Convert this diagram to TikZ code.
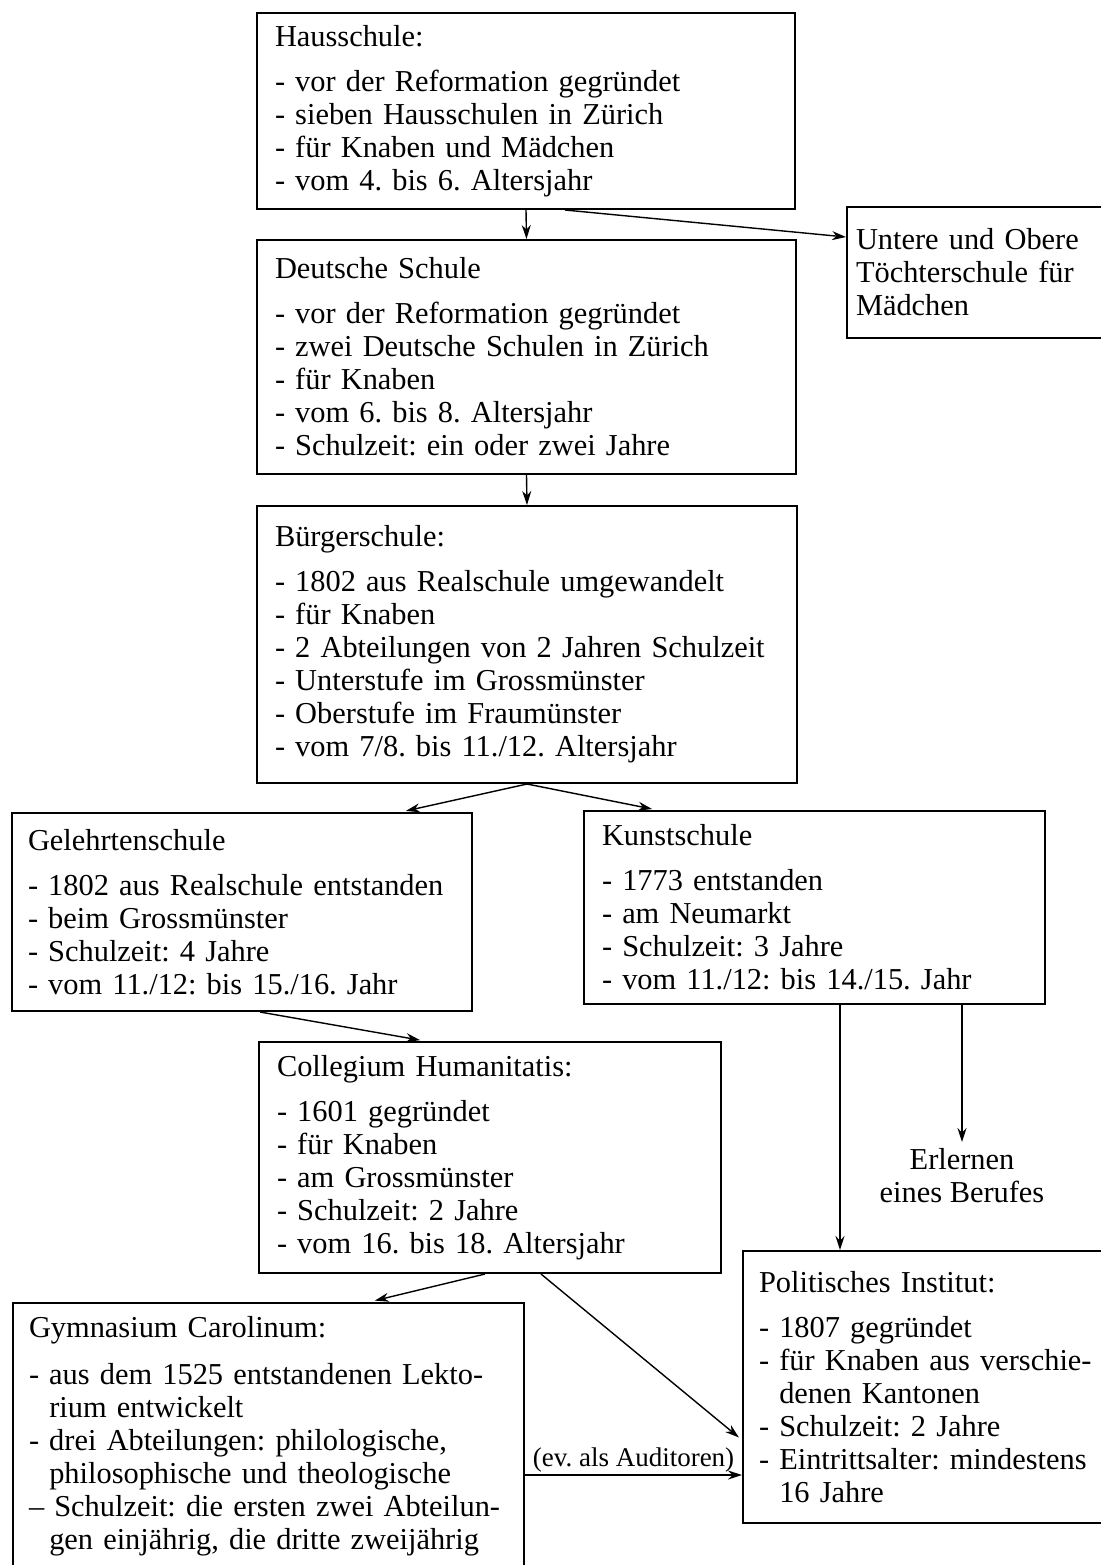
\documentclass[tikz,border=0pt]{standalone}
\usepackage{fontspec}
\setmainfont{Liberation Serif}
\usetikzlibrary{arrows.meta,calc}
\frenchspacing

\begin{document}
\begin{tikzpicture}[x=0.5pt, y=-0.5pt, thick,
    box/.style = {draw, line width=1pt, anchor=north west, align=left, inner xsep=9pt, inner ysep=0pt, font=\fontsize{15.2}{16.5}\selectfont},
    arr/.style = {-{Stealth[length=7pt,width=4.5pt]}, line width=0.7pt}]
    \fill[white] (0,0) rectangle (1101,1565);
    \useasboundingbox (0,0) rectangle (1101,1565);

    \node[box, text width=251pt, minimum height=98pt] at (256,12) (haus) {Hausschule:\\[6pt]
        - vor der Reformation gegründet\\
        - sieben Hausschulen in Zürich\\
        - für Knaben und Mädchen\\
        - vom 4. bis 6. Altersjahr};
    \node[box, text width=140pt, inner xsep=4.5pt, minimum height=65.5pt] at (846,206) (untere) {Untere und Obere\\
        Töchterschule für\\
        Mädchen};
    \node[box, text width=251.5pt, minimum height=117pt] at (256,239) (deutsch) {Deutsche Schule\\[6pt]
        - vor der Reformation gegründet\\
        - zwei Deutsche Schulen in Zürich\\
        - für Knaben\\
        - vom 6. bis 8. Altersjahr\\
        - Schulzeit: ein oder zwei Jahre};
    \node[box, text width=252pt, minimum height=138.5pt] at (256,505) (buerger) {Bürgerschule:\\[6pt]
        - 1802 aus Realschule umgewandelt\\
        - für Knaben\\
        - 2 Abteilungen von 2 Jahren Schulzeit\\
        - Unterstufe im Grossmünster\\
        - Oberstufe im Fraumünster\\
        - vom 7/8. bis 11./12. Altersjahr};
    \node[box, text width=214pt, inner xsep=8pt, minimum height=99pt] at (11,812) (gelehrt) {Gelehrtenschule\\[6pt]
        - 1802 aus Realschule entstanden\\
        - beim Grossmünster\\
        - Schulzeit: 4 Jahre\\
        - vom 11./12: bis 15./16. Jahr};
    \node[box, text width=212.5pt, minimum height=96.5pt] at (583,810) (kunst) {Kunstschule\\[6pt]
        - 1773 entstanden\\
        - am Neumarkt\\
        - Schulzeit: 3 Jahre\\
        - vom 11./12: bis 14./15. Jahr};
    \node[box, text width=213pt, minimum height=115.5pt] at (258,1041) (coll) {Collegium Humanitatis:\\[6pt]
        - 1601 gegründet\\
        - für Knaben\\
        - am Grossmünster\\
        - Schulzeit: 2 Jahre\\
        - vom 16. bis 18. Altersjahr};
    \node[font=\fontsize{15.2}{16.5}\selectfont, align=center, inner sep=3pt] at (962,1176) (beruf) {Erlernen\\eines Berufes};
    \node[box, text width=190pt, inner xsep=8pt, minimum height=136pt] at (742,1250) (polit) {Politisches Institut:\\[6pt]
        - 1807 gegründet\\
        - für Knaben aus verschie-\\
        \hphantom{- }denen Kantonen\\
        - Schulzeit: 2 Jahre\\
        - Eintrittsalter: mindestens\\
        \hphantom{- }16 Jahre};
    \node[box, text width=239.5pt, inner xsep=8pt, minimum height=133pt] at (12,1302) (gymn) {Gymnasium Carolinum:\\[7pt]
        - aus dem 1525 entstandenen Lekto-\\
        \hphantom{- }rium entwickelt\\
        - drei Abteilungen: philologische,\\
        \hphantom{- }philosophische und theologische\\
        -- Schulzeit: die ersten zwei Abteilun-\\
        \hphantom{- }gen einjährig, die dritte zweijährig};

    \draw[arr] (haus.south) -- (deutsch.north);
    \draw[arr] ($(haus.south)+(39,0)$) -- ($(untere.north west)+(0,31)$);
    \draw[arr] (deutsch.south) -- (buerger.north);
    \draw[arr, shorten >=2.5pt] (buerger.south) -- ($(gelehrt.north east)+(-72,0)$);
    \draw[arr, shorten >=2.5pt] (buerger.south) -- ($(kunst.north west)+(74,0)$);
    \draw[arr, shorten >=2.5pt] ($(gelehrt.south west)+(249,0)$) -- ($(coll.north west)+(167,0)$);
    \coordinate (kp) at ($(kunst.south west)+(257,0)$);
    \draw[arr] (kp) -- (kp |- polit.north);
    \draw[arr] (kunst.south -| beruf.north) -- (beruf.north);
    \draw[arr, shorten >=3pt] ($(coll.south west)+(227,0)$) -- ($(gymn.north west)+(357,0)$);
    \draw[arr, shorten >=2pt] ($(coll.south west)+(283,0)$) -- ($(polit.north west)+(0,190)$);
    \coordinate (ga) at ($(gymn.north east)+(0,173)$);
    \draw[arr] (ga) -- (ga -| polit.west) node[midway, above, inner sep=1pt, font=\fontsize{13.5}{16}\selectfont] {(ev. als Auditoren)};
\end{tikzpicture}
\end{document}
